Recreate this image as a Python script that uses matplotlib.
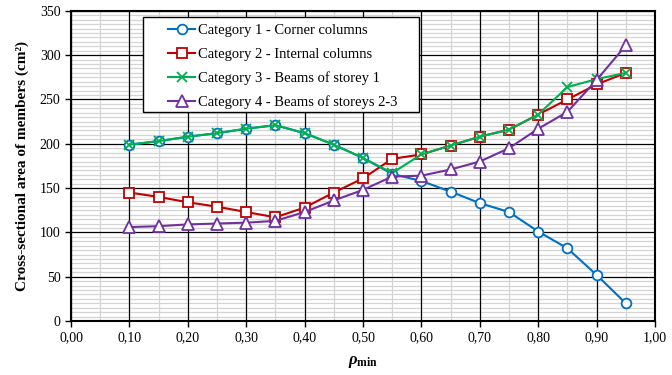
import numpy as np
import matplotlib
matplotlib.use("Agg")
import matplotlib.pyplot as plt
from matplotlib.ticker import MultipleLocator
from matplotlib.patches import Rectangle

plt.rcParams['font.family'] = ['Liberation Serif', 'DejaVu Serif']
plt.rcParams['mathtext.fontset'] = 'custom'
plt.rcParams['mathtext.it'] = 'Liberation Serif:italic:bold'
plt.rcParams['mathtext.rm'] = 'Liberation Serif:bold'
plt.rcParams['mathtext.bf'] = 'Liberation Serif:bold'

# datos
rho = [0.10, 0.15, 0.20, 0.25, 0.30, 0.35, 0.40, 0.45, 0.50,
       0.55, 0.60, 0.65, 0.70, 0.75, 0.80, 0.85, 0.90, 0.95]
cat1 = [199, 203, 208, 212, 217, 221, 212, 199, 184,
        166, 158, 146, 133, 123, 101, 82, 52, 20]
cat2 = [145, 140, 134, 129, 123, 117, 128, 145, 161,
        183, 188, 198, 208, 216, 233, 250, 267, 280]
cat3 = [199, 203, 208, 212, 217, 221, 212, 199, 184,
        167, 188, 198, 208, 216, 233, 264, 273, 280]
cat4 = [106, 107, 109, 110, 111, 113, 123, 136, 148,
        163, 164, 171, 180, 195, 217, 236, 272, 311]

labels = ['Category 1 - Corner columns',
          'Category 2 - Internal columns',
          'Category 3 - Beams of storey 1',
          'Category 4 - Beams of storeys 2-3']
xticks = [0.0, 0.1, 0.2, 0.3, 0.4, 0.5, 0.6, 0.7, 0.8, 0.9, 1.0]
xticklabels = ['0,00', '0,10', '0,20', '0,30', '0,40', '0,50',
               '0,60', '0,70', '0,80', '0,90', '1,00']
yticks = [0, 50, 100, 150, 200, 250, 300, 350]

fig = plt.figure(figsize=(6.72, 3.75), dpi=100)
ax = fig.add_axes([0.1057, 0.144, 0.869, 0.827])

ax.plot(rho, cat1, color='#0070C0', lw=1.5, marker='o', ms=7,
        mfc='white', mec='#0070C0', mew=1.3, label=labels[0], zorder=3)
ax.plot(rho, cat2, color='#C00000', lw=1.5, marker='s', ms=7,
        mfc='white', mec='#C00000', mew=1.3, label=labels[1], zorder=4)
ax.plot(rho, cat3, color='#00B050', lw=1.5, marker='x', ms=7,
        mec='#00B050', mew=1.3, label=labels[2], zorder=5)
ax.plot(rho, cat4, color='#7030A0', lw=1.5, marker='^', ms=8,
        mfc='white', mec='#7030A0', mew=1.3, label=labels[3], zorder=6)

ax.set_xlim(0, 1)
ax.set_ylim(0, 350)
ax.set_xticks(xticks)
ax.set_xticklabels(xticklabels)
ax.set_yticks(yticks)
ax.xaxis.set_minor_locator(MultipleLocator(0.05))
ax.yaxis.set_minor_locator(MultipleLocator(5))
# rejilla menor gris, la mayor en negro encima
ax.grid(which='minor', color='#D4D4D4', lw=0.9)
ax.set_axisbelow(True)
for v in xticks:
    ax.axvline(v, color='black', lw=0.9, zorder=1)
for v in yticks:
    ax.axhline(v, color='black', lw=0.9, zorder=1)
ax.tick_params(which='major', direction='out', length=4, width=1,
               labelsize=10, colors='black')
ax.tick_params(which='minor', length=0)
for s in ax.spines.values():
    s.set_linewidth(1.5)
    s.set_color('black')

ax.set_ylabel('Cross-sectional area of members (cm²)', fontsize=11,
              fontweight='bold', labelpad=8)
ax.set_xlabel(r'$\rho_{\mathrm{min}}$', fontsize=12, labelpad=7)

# marco de la leyenda aparte (mas margen a los lados que arriba/abajo)
marco = Rectangle((0.1233, 0.674), 0.4726, 0.3065, transform=ax.transAxes,
                  facecolor='white', edgecolor='black', lw=1.0, zorder=9)
ax.add_patch(marco)
leg = ax.legend(loc='upper left', bbox_to_anchor=(0.1665, 0.958),
                fontsize=10.5, frameon=False, borderpad=0,
                labelspacing=0.72, handlelength=1.85, handletextpad=0.2,
                borderaxespad=0)
leg.set_zorder(10)

fig.savefig('out.png', dpi=100)
